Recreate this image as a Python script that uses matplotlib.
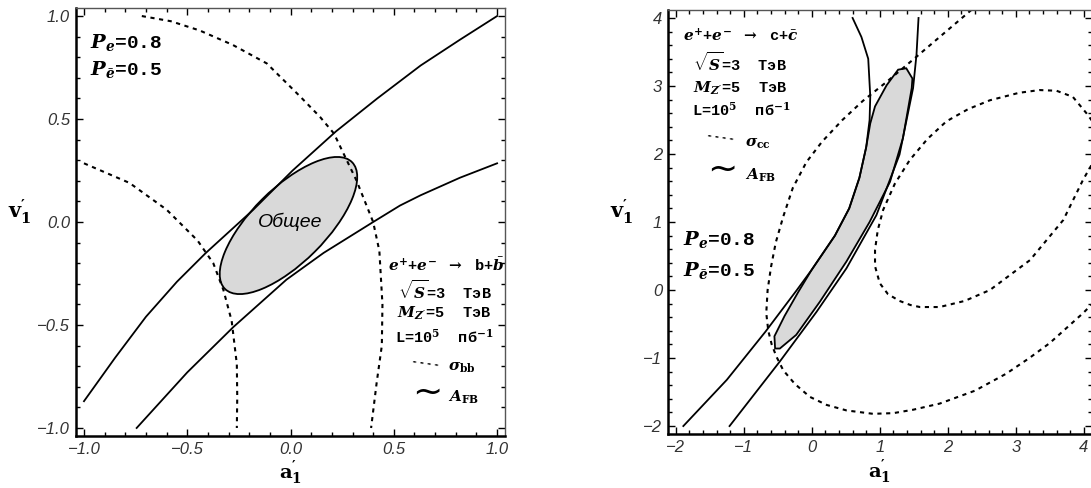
import matplotlib
matplotlib.use("Agg")
import matplotlib.pyplot as plt
from matplotlib.patches import Ellipse, Polygon
from matplotlib.ticker import MultipleLocator

plt.rcParams['mathtext.fontset'] = 'custom'
plt.rcParams['mathtext.rm'] = 'DejaVu Serif:bold'
plt.rcParams['mathtext.it'] = 'DejaVu Serif:italic:bold'
plt.rcParams['mathtext.bf'] = 'DejaVu Serif:bold'

# ---- left panel: e+e- -> b bbar ----
b_afb_up_x = [-1.0, -0.85, -0.70, -0.55, -0.41, -0.18, 0.01, 0.22, 0.42, 0.63, 0.82, 1.0]
b_afb_up_y = [-0.87, -0.66, -0.46, -0.29, -0.15, 0.06, 0.25, 0.44, 0.60, 0.76, 0.885, 1.0]
b_afb_lo_x = [-0.745, -0.50, -0.277, -0.02, 0.16, 0.40, 0.53, 0.63, 0.82, 1.0]
b_afb_lo_y = [-1.0, -0.73, -0.51, -0.28, -0.15, 0.0, 0.08, 0.13, 0.215, 0.285]
b_sig_out_x = [-0.72, -0.58, -0.44, -0.28, -0.115, 0.046, 0.143, 0.21, 0.32, 0.40, 0.43, 0.445,
               0.442, 0.417, 0.39]
b_sig_out_y = [1.0, 0.975, 0.93, 0.86, 0.77, 0.61, 0.51, 0.43, 0.20, 0.0, -0.14, -0.40,
               -0.60, -0.78, -1.0]
b_sig_in_x = [-1.0, -0.78, -0.60, -0.45, -0.374, -0.325, -0.285, -0.26, -0.258, -0.26]
b_sig_in_y = [0.285, 0.19, 0.06, -0.09, -0.20, -0.33, -0.48, -0.69, -0.85, -1.0]
b_common_center = (-0.01, -0.017)
b_common_width = 0.87
b_common_height = 0.36
b_common_angle = 45
b_ticks = [-1.0, -0.5, 0.0, 0.5, 1.0]
b_ticklabels = ['\u22121.0', '\u22120.5', '0.0', '0.5', '1.0']

# ---- right panel: e+e- -> c cbar ----
c_afb_l_x = [-1.89, -1.25, -0.68, -0.22, 0.0, 0.34, 0.55, 0.70, 0.80, 0.85, 0.86, 0.83, 0.73, 0.60]
c_afb_l_y = [-2.0, -1.32, -0.61, 0.0, 0.30, 0.80, 1.20, 1.65, 2.10, 2.50, 2.85, 3.40, 3.72, 4.0]
c_afb_r_x = [-1.21, -0.47, 0.07, 0.51, 0.95, 1.29, 1.49, 1.54, 1.57]
c_afb_r_y = [-2.0, -1.05, -0.32, 0.32, 1.10, 1.99, 2.97, 3.46, 4.0]
c_sig_out_x = [2.35, 1.88, 1.54, 1.10, 0.75, 0.45, 0.15, -0.08, -0.28, -0.42, -0.53, -0.60,
               -0.65, -0.67, -0.64, -0.59, -0.52, -0.42, -0.25, -0.03, 0.22, 0.51, 0.90,
               1.20, 1.49, 1.88, 2.40, 2.86, 3.20, 3.50, 3.99, 4.15]
c_sig_out_y = [4.12, 3.72, 3.43, 3.06, 2.78, 2.50, 2.18, 1.88, 1.50, 1.08, 0.70, 0.34,
               0.0, -0.34, -0.60, -0.80, -0.98, -1.18, -1.38, -1.57, -1.69, -1.77, -1.82,
               -1.81, -1.76, -1.67, -1.48, -1.23, -1.00, -0.78, -0.34, -0.18]
c_sig_in_x = [4.15, 4.04, 3.84, 3.60, 3.35, 3.05, 2.62, 2.30, 1.98, 1.70, 1.44, 1.22, 1.05,
              0.97, 0.93, 0.93, 1.0, 1.12, 1.29, 1.45, 1.59, 1.88, 2.25, 2.62, 3.21, 3.70,
              3.99, 4.15]
c_sig_in_y = [2.45, 2.60, 2.84, 2.93, 2.94, 2.90, 2.79, 2.66, 2.48, 2.22, 1.91, 1.56, 1.18,
              0.88, 0.59, 0.35, 0.10, -0.06, -0.16, -0.22, -0.25, -0.25, -0.16, 0.0, 0.44,
              1.03, 1.62, 1.90]
c_common_x = [1.39, 1.48, 1.47, 1.34, 1.15, 0.85, 0.51, 0.12, -0.23, -0.47, -0.54, -0.55,
              -0.40, -0.20, 0.0, 0.34, 0.55, 0.70, 0.80, 0.86, 0.93, 1.10, 1.27]
c_common_y = [3.26, 3.11, 2.97, 2.23, 1.59, 1.00, 0.42, -0.17, -0.66, -0.86, -0.86, -0.68,
              -0.38, -0.03, 0.30, 0.80, 1.20, 1.65, 2.10, 2.45, 2.70, 3.01, 3.24]
c_ticks = [-2, -1, 0, 1, 2, 3, 4]
c_ticklabels = ['\u22122', '\u22121', '0', '1', '2', '3', '4']

fig = plt.figure(figsize=(10.91, 4.88), dpi=100)
axL = fig.add_axes([0.0694, 0.1061, 0.3938, 0.8779])
axR = fig.add_axes([0.612, 0.1102, 0.3888, 0.8697])

solid = dict(color='black', lw=1.3)
dashed = dict(color='black', lw=1.5, ls=(0, (2.0, 2.2)))
gray = '#d9d9d9'


def frame(ax, lim, ticks, labels, minor):
    ax.set_xlim(lim)
    ax.set_ylim(lim)
    ax.set_xticks(ticks)
    ax.set_yticks(ticks)
    ax.set_xticklabels(labels)
    ax.set_yticklabels(labels)
    ax.xaxis.set_minor_locator(MultipleLocator(minor))
    ax.yaxis.set_minor_locator(MultipleLocator(minor))
    ax.tick_params(which='both', direction='in', top=True, right=True, width=1.0, color='black')
    ax.tick_params(which='major', length=5, pad=4)
    ax.tick_params(which='minor', length=3)
    for lab in ax.get_xticklabels() + ax.get_yticklabels():
        lab.set_fontfamily('Liberation Sans')
        lab.set_fontstyle('italic')
        lab.set_fontsize(12)
        lab.set_color('#333333')
    for s in ['left', 'bottom']:
        ax.spines[s].set_linewidth(1.8)
    for s in ['top', 'right']:
        ax.spines[s].set_linewidth(1.0)
        ax.spines[s].set_color('#555555')
    ax.set_xlabel(r"$\mathbf{a}_\mathbf{1}^{\prime}$", fontsize=14, va='top')
    ax.set_ylabel(r"$\mathbf{v}_\mathbf{1}^{\prime}$", fontsize=15, rotation=0)


txt = dict(family='Liberation Mono', weight='bold', fontsize=11, color='black', va='center')
ptxt = dict(family='Liberation Mono', weight='bold', fontsize=14, color='black', va='center')

# left panel
axL.add_patch(Ellipse(b_common_center, b_common_width, b_common_height, angle=b_common_angle,
                      facecolor=gray, edgecolor='black', lw=1.3, zorder=1))
axL.plot(b_afb_up_x, b_afb_up_y, **solid)
axL.plot(b_afb_lo_x, b_afb_lo_y, **solid)
axL.plot(b_sig_out_x, b_sig_out_y, **dashed)
axL.plot(b_sig_in_x, b_sig_in_y, **dashed)
axL.text(0.0, 0.0, 'Общее', family='Liberation Sans', style='italic', fontsize=14,
         ha='center', va='center')
frame(axL, (-1.04, 1.04), b_ticks, b_ticklabels, 0.1)
axL.xaxis.set_label_coords(0.5, -0.052)
axL.yaxis.set_label_coords(-0.13, 0.49)

axL.text(0.033, 0.920, r'$P_e$=0.8', transform=axL.transAxes, **ptxt)
axL.text(0.033, 0.855, r'$P_{\bar{e}}$=0.5', transform=axL.transAxes, **ptxt)
axL.text(0.727, 0.400, r'$e^{+}$+$e^{-}$ $\rightarrow$ b+$\bar{b}$', transform=axL.transAxes, **txt)
axL.text(0.750, 0.341, r'$\sqrt{S}$=3  ТэВ', transform=axL.transAxes, **txt)
axL.text(0.748, 0.288, r"$M_{Z'}$=5  ТэВ", transform=axL.transAxes, **txt)
axL.text(0.743, 0.232, r'L=10$^{5}$  пб$^{-1}$', transform=axL.transAxes, **txt)
axL.text(0.783, 0.170, '- - - -', transform=axL.transAxes, family='DejaVu Sans', weight='bold',
         fontsize=7, rotation=-8, va='center')
axL.text(0.867, 0.159, r'$\sigma_{\mathrm{bb}}$', transform=axL.transAxes, **txt)
axL.text(0.818, 0.101, '~', transform=axL.transAxes, family='DejaVu Sans', fontsize=26,
         ha='center', va='center')
axL.text(0.867, 0.091, r'$A_{\mathrm{FB}}$', transform=axL.transAxes, **txt)

# right panel
axR.add_patch(Polygon(list(zip(c_common_x, c_common_y)), closed=True, facecolor=gray,
                      edgecolor='black', lw=1.3, zorder=1))
axR.plot(c_afb_l_x, c_afb_l_y, **solid)
axR.plot(c_afb_r_x, c_afb_r_y, **solid)
axR.plot(c_sig_out_x, c_sig_out_y, **dashed)
axR.plot(c_sig_in_x, c_sig_in_y, **dashed)
frame(axR, (-2.12, 4.12), c_ticks, c_ticklabels, 0.2)
axR.xaxis.set_label_coords(0.5, -0.056)
axR.yaxis.set_label_coords(-0.108, 0.49)

axR.text(0.036, 0.938, r'$e^{+}$+$e^{-}$ $\rightarrow$ c+$\bar{c}$', transform=axR.transAxes, **txt)
axR.text(0.059, 0.875, r'$\sqrt{S}$=3  ТэВ', transform=axR.transAxes, **txt)
axR.text(0.059, 0.816, r"$M_{Z'}$=5  ТэВ", transform=axR.transAxes, **txt)
axR.text(0.057, 0.764, r'L=10$^{5}$  пб$^{-1}$', transform=axR.transAxes, **txt)
axR.text(0.092, 0.698, '- - - -', transform=axR.transAxes, family='DejaVu Sans', weight='bold',
         fontsize=7, rotation=-8, va='center')
axR.text(0.182, 0.684, r'$\sigma_{\mathrm{cc}}$', transform=axR.transAxes, **txt)
axR.text(0.128, 0.623, '~', transform=axR.transAxes, family='DejaVu Sans', fontsize=26,
         ha='center', va='center')
axR.text(0.182, 0.611, r'$A_{\mathrm{FB}}$', transform=axR.transAxes, **txt)
axR.text(0.036, 0.458, r'$P_e$=0.8', transform=axR.transAxes, **ptxt)
axR.text(0.036, 0.385, r'$P_{\bar{e}}$=0.5', transform=axR.transAxes, **ptxt)

fig.savefig("out.png", dpi=100)
